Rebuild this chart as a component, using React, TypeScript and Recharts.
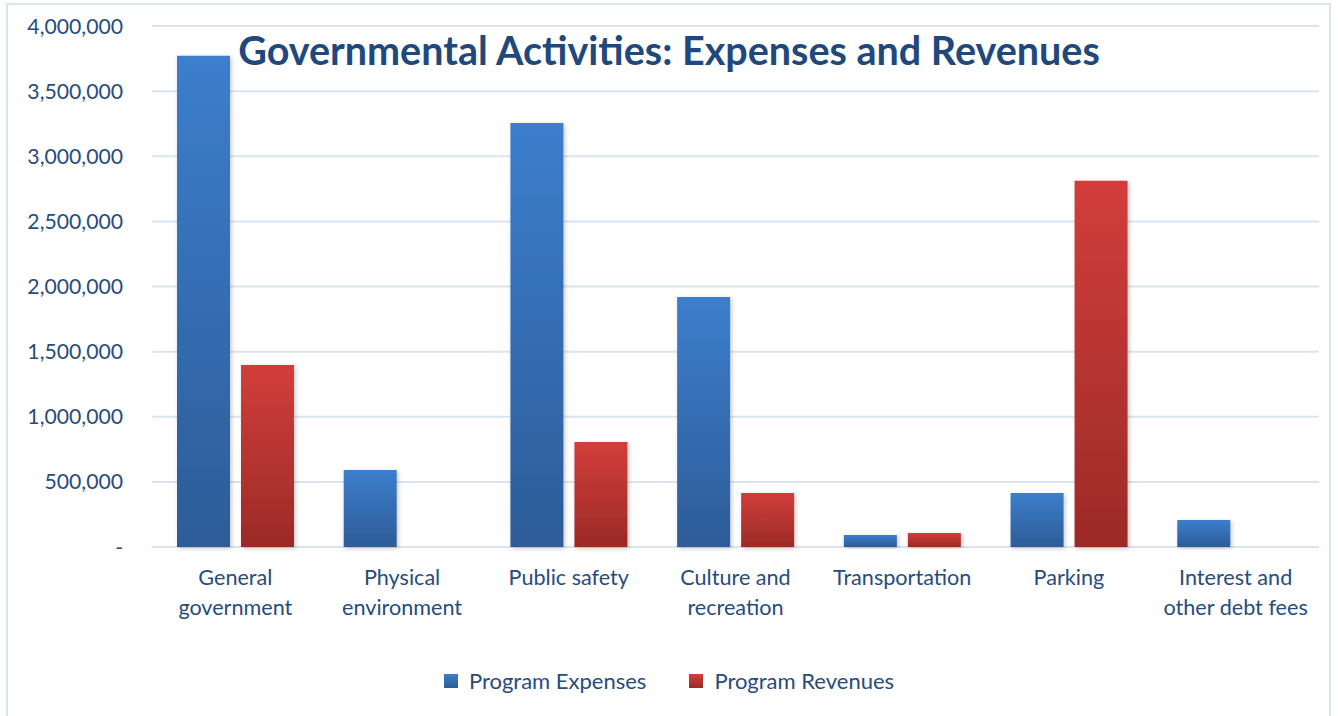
import React from 'react';
import { BarChart, Bar, XAxis, YAxis, CartesianGrid, Legend } from 'recharts';

const categories = [
  'General\ngovernment',
  'Physical\nenvironment',
  'Public safety',
  'Culture and\nrecreation',
  'Transportation',
  'Parking',
  'Interest and\nother debt fees',
];
const programExpenses = [3771000, 591000, 3256000, 1920000, 92000, 415000, 207000];
const programRevenues = [1398000, 0, 806000, 415000, 108000, 2811000, 0];
const yTicks = [0, 500000, 1000000, 1500000, 2000000, 2500000, 3000000, 3500000, 4000000];

const chartData = categories.map((name, i) => ({
  name,
  expenses: programExpenses[i],
  revenues: programRevenues[i],
}));

const textColor = '#274C7E';
const font = 'Lato, "Open Sans", sans-serif';

const formatTick = (v: number) => (v === 0 ? '-' : v.toLocaleString('en-US'));

const CategoryTick = (props: any) => {
  const { x, y, payload } = props;
  const lines: string[] = String(payload.value).split('\n');
  return (
    <text x={x} y={y + 30} textAnchor="middle" fill={textColor} fontSize={21.6} fontFamily={font}>
      {lines.map((line, i) => (
        <tspan key={i} x={x} dy={i === 0 ? 0 : 30}>
          {line}
        </tspan>
      ))}
    </text>
  );
};

const legendItems = [
  { label: 'Program Expenses', from: '#3C7ECD', to: '#2D5C98' },
  { label: 'Program Revenues', from: '#D23E3B', to: '#9B2A27' },
];

const renderLegend = () => (
  <div style={{ display: 'flex', justifyContent: 'center', alignItems: 'center', gap: 43, fontFamily: font }}>
    {legendItems.map((item) => (
      <div key={item.label} style={{ display: 'flex', alignItems: 'center' }}>
        <span
          style={{
            width: 14,
            height: 14,
            marginRight: 11,
            background: `linear-gradient(${item.from}, ${item.to})`,
          }}
        />
        <span style={{ fontSize: 22, color: textColor }}>{item.label}</span>
      </div>
    ))}
  </div>
);

export default function App() {
  return (
    <div style={{ position: 'fixed', left: 0, top: 0, width: 1338, height: 716, background: '#fff', overflow: 'hidden' }}>
      <div
        style={{
          position: 'absolute',
          left: 6,
          top: 3,
          width: 1325,
          height: 730,
          border: '2px solid #DAE4F2',
          boxSizing: 'border-box',
        }}
      />
      <BarChart
        width={1338}
        height={716}
        data={chartData}
        margin={{ top: 26, right: 19, left: 0, bottom: 69 }}
        barSize={53}
        barGap={11}
      >
        <defs>
          <linearGradient id="gradBlue" x1="0" y1="0" x2="0" y2="1">
            <stop offset="0%" stopColor="#3C7ECD" />
            <stop offset="100%" stopColor="#2D5C98" />
          </linearGradient>
          <linearGradient id="gradRed" x1="0" y1="0" x2="0" y2="1">
            <stop offset="0%" stopColor="#D23E3B" />
            <stop offset="100%" stopColor="#9B2A27" />
          </linearGradient>
          <filter id="barShadow" x="-20%" y="-5%" width="140%" height="115%">
            <feDropShadow dx="1.5" dy="1.5" stdDeviation="2" floodColor="#000" floodOpacity="0.22" />
          </filter>
        </defs>
        <CartesianGrid vertical={false} stroke="#DAE4F2" strokeWidth={2} />
        <XAxis
          dataKey="name"
          axisLine={false}
          tickLine={false}
          height={100}
          interval={0}
          tick={<CategoryTick />}
        />
        <YAxis
          domain={[0, 4000000]}
          ticks={yTicks}
          width={152}
          axisLine={false}
          tickLine={false}
          tickMargin={23}
          tickFormatter={formatTick}
          tick={{ fill: textColor, fontSize: 21.2, fontFamily: font }}
        />
        <Legend
          verticalAlign="middle"
          align="center"
          wrapperStyle={{ top: 667, left: 0, width: 1338 }}
          content={renderLegend}
        />
        <Bar dataKey="expenses" name="Program Expenses" fill="url(#gradBlue)" filter="url(#barShadow)" isAnimationActive={false} />
        <Bar dataKey="revenues" name="Program Revenues" fill="url(#gradRed)" filter="url(#barShadow)" isAnimationActive={false} />
      </BarChart>
      <div
        style={{
          position: 'absolute',
          left: 0,
          top: 26,
          width: 1338,
          textAlign: 'center',
          fontFamily: font,
          fontWeight: 700,
          fontSize: 39.5,
          color: '#1F497D',
          pointerEvents: 'none',
        }}
      >
        Governmental Activities: Expenses and Revenues
      </div>
    </div>
  );
}
